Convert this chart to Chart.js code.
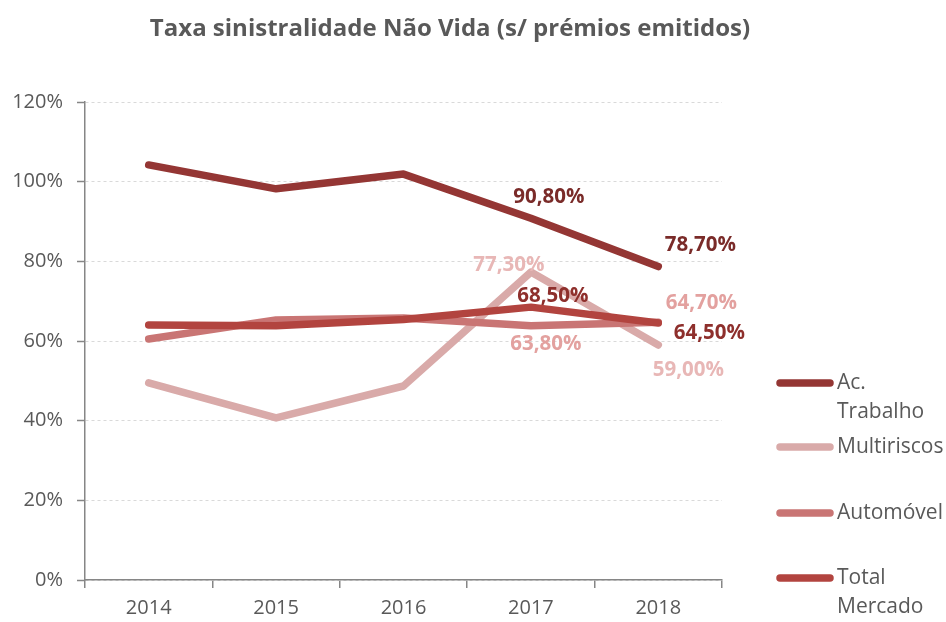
<!DOCTYPE html>
<html>
<head>
<meta charset="utf-8">
<script src="https://cdn.jsdelivr.net/npm/chart.js@4.4.1/dist/chart.umd.min.js"></script>
<style>
  html, body { margin: 0; padding: 0; background: #ffffff; }
  #wrap { width: 946px; height: 622px; position: relative; }
</style>
</head>
<body>
<div id="wrap"><canvas id="c" width="946" height="622"></canvas></div>
<script>
// ---- data ----
const years = ['2014', '2015', '2016', '2017', '2018'];
const seriesNames = ['Ac. Trabalho', 'Multiriscos', 'Automóvel', 'Total Mercado'];
const acTrabalho = [104.2, 98.2, 101.9, 90.8, 78.7];
const multiriscos = [49.5, 40.7, 48.7, 77.3, 59.0];
const automovel = [60.5, 65.3, 65.8, 63.8, 64.7];
const totalMercado = [64.0, 63.8, 65.4, 68.5, 64.5];
const yTicks = [0, 20, 40, 60, 80, 100, 120];
const chartTitle = 'Taxa sinistralidade Não Vida (s/ prémios emitidos)';

// ---- styling ----
const lineColors = ['#943634', '#d9aaa9', '#c97574', '#b2443f'];
const labelColors = ['#7a2b29', '#e8b7b6', '#e3a19f', '#8e2f2c'];
// label offsets (px) for the 2017 and 2018 points of each series
const labelOffsets = [
  [[18, -21], [42, -21]],
  [[-22, -7], [30, 25]],
  [[15, 18], [43, -19]],
  [[22, -11], [51, 10]]
];
const legendLines = [['Ac.', 'Trabalho'], ['Multiriscos'], ['Automóvel'], ['Total', 'Mercado']];
const legendY = [383, 447, 513, 578];

const allSeries = [acTrabalho, multiriscos, automovel, totalMercado];
const fmt = v => v.toFixed(2).replace('.', ',') + '%';
const FONT = '"Open Sans", "DejaVu Sans", sans-serif';

const labelPlugin = {
  id: 'pointLabels',
  afterDatasetsDraw(chart) {
    const ctx = chart.ctx;
    ctx.save();
    ctx.font = 'bold 20.5px ' + FONT;
    ctx.textAlign = 'center';
    ctx.textBaseline = 'middle';
    chart.data.datasets.forEach((ds, i) => {
      const meta = chart.getDatasetMeta(i);
      [3, 4].forEach((idx, k) => {
        const pt = meta.data[idx];
        const off = labelOffsets[i][k];
        ctx.fillStyle = labelColors[i];
        ctx.fillText(fmt(ds.data[idx]), pt.x + off[0], pt.y + off[1]);
      });
    });
    ctx.restore();
  }
};

const titleLegendPlugin = {
  id: 'titleAndLegend',
  afterDraw(chart) {
    const ctx = chart.ctx;
    ctx.save();
    ctx.font = 'bold 24px ' + FONT;
    ctx.textAlign = 'center';
    ctx.textBaseline = 'middle';
    ctx.fillStyle = '#595959';
    ctx.fillText(chartTitle, 450, 29);

    ctx.font = '21px ' + FONT;
    ctx.textAlign = 'left';
    chart.data.datasets.forEach((ds, i) => {
      const y = legendY[i];
      ctx.strokeStyle = lineColors[i];
      ctx.lineWidth = 7.5;
      ctx.lineCap = 'round';
      ctx.beginPath();
      ctx.moveTo(780, y);
      ctx.lineTo(830, y);
      ctx.stroke();
      ctx.fillStyle = '#595959';
      legendLines[i].forEach((t, j) => ctx.fillText(t, 837, y + j * 29));
    });
    ctx.restore();
  }
};

new Chart(document.getElementById('c'), {
  type: 'line',
  data: {
    labels: years,
    datasets: allSeries.map((d, i) => ({
      label: seriesNames[i],
      data: d,
      borderColor: lineColors[i],
      backgroundColor: lineColors[i],
      borderWidth: 7.5,
      borderCapStyle: 'round',
      borderJoinStyle: 'round',
      pointRadius: 0,
      pointHoverRadius: 0,
      tension: 0,
      fill: false,
      order: 4 - i
    }))
  },
  options: {
    responsive: false,
    animation: false,
    events: [],
    layout: { padding: { top: 102, right: 224, bottom: 0, left: 0 } },
    plugins: {
      legend: { display: false },
      tooltip: { enabled: false },
      title: { display: false }
    },
    scales: {
      x: {
        offset: true,
        grid: { offset: true, drawOnChartArea: false, drawTicks: true, tickLength: 8, color: '#868686', lineWidth: 1.5 },
        border: { display: true, color: '#868686', width: 1.5 },
        ticks: { color: '#595959', font: { family: FONT, size: 20 }, padding: 8 },
        afterFit(scale) { scale.height = 42; }
      },
      y: {
        min: 0,
        max: 120,
        afterBuildTicks(scale) { scale.ticks = yTicks.map(v => ({ value: v })); },
        grid: {
          color: '#d9d9d9',
          lineWidth: 1,
          drawTicks: true,
          tickLength: 8,
          tickColor: '#868686',
          tickWidth: 1.5
        },
        border: { display: true, color: '#868686', width: 1.5, dash: [3, 3], dashOffset: 0 },
        ticks: { color: '#595959', font: { family: FONT, size: 20 }, padding: 14, callback: v => v + '%' },
        afterFit(scale) { scale.width = 85; }
      }
    }
  },
  plugins: [labelPlugin, titleLegendPlugin]
});
</script>
</body>
</html>
